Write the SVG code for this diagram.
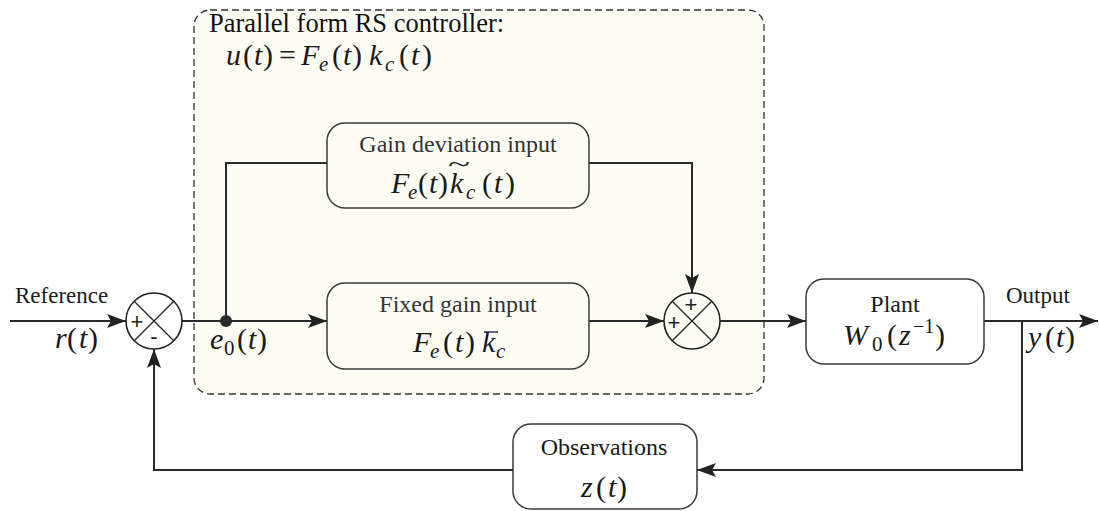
<svg xmlns="http://www.w3.org/2000/svg" width="1099" height="511" viewBox="0 0 1099 511">
  <defs>
    <marker id="head" markerUnits="userSpaceOnUse" markerWidth="20" markerHeight="16" refX="19" refY="7" orient="auto">
      <path d="M0,0 L19,7 L0,14 L4,7 Z" fill="#222222"/>
    </marker>
  </defs>
  <rect x="0" y="0" width="1099" height="511" fill="#ffffff"/>
  <g id="controller">
    <rect x="194" y="10" width="570" height="384" rx="16" fill="#fdfdf3" stroke="#333333" stroke-width="1.3" stroke-dasharray="7 4"/>
    <text style="font-family:'Liberation Serif',serif !important" font-family="Liberation Serif" font-size="26.5" fill="#111111" x="209" y="32">Parallel form RS controller:</text>
    <text style="font-family:'Liberation Serif',serif !important" font-family="Liberation Serif" font-size="30" fill="#1a1a1a" y="65"><tspan font-style="italic" x="226">u</tspan><tspan x="243">(</tspan><tspan font-style="italic" x="254">t</tspan><tspan x="263">)</tspan><tspan x="279">=</tspan><tspan font-style="italic" x="301">F</tspan><tspan font-style="italic" font-size="21" x="319" y="71">e</tspan><tspan x="332" y="65">(</tspan><tspan font-style="italic" x="343">t</tspan><tspan x="352">)</tspan><tspan font-style="italic" x="369">k</tspan><tspan font-style="italic" font-size="21" x="385" y="71">c</tspan><tspan x="399" y="65">(</tspan><tspan font-style="italic" x="411">t</tspan><tspan x="422">)</tspan></text>
  </g>
  <g id="connectors" fill="none" stroke="#2a2a2a" stroke-width="2">
    <line x1="10" y1="321" x2="126" y2="321" marker-end="url(#head)"/>
    <line x1="182" y1="321" x2="327" y2="321" marker-end="url(#head)"/>
    <polyline points="226,321 226,163 327,163"/>
    <polyline points="589,163 692,163 692,293" marker-end="url(#head)"/>
    <line x1="589" y1="321" x2="664" y2="321" marker-end="url(#head)"/>
    <line x1="720" y1="321" x2="806" y2="321" marker-end="url(#head)"/>
    <line x1="984" y1="321" x2="1098" y2="321" marker-end="url(#head)"/>
    <polyline points="1022,321 1022,470 697,470" marker-end="url(#head)"/>
    <polyline points="513,470 154,470 154,349" marker-end="url(#head)"/>
    <circle cx="226" cy="321" r="6" fill="#2a2a2a" stroke="none"/>
  </g>
  <g id="signals" fill="#1a1a1a">
    <text style="font-family:'Liberation Serif',serif !important" font-family="Liberation Serif" font-size="23" x="15" y="303">Reference</text>
    <text style="font-family:'Liberation Serif',serif !important" font-family="Liberation Serif" font-size="30" y="348"><tspan font-style="italic" x="55">r</tspan><tspan x="67">(</tspan><tspan font-style="italic" x="79">t</tspan><tspan x="88">)</tspan></text>
    <text style="font-family:'Liberation Serif',serif !important" font-family="Liberation Serif" font-size="30" y="349"><tspan font-style="italic" x="210">e</tspan><tspan font-size="21" x="224" y="355">0</tspan><tspan x="237" y="349">(</tspan><tspan font-style="italic" x="248">t</tspan><tspan x="257">)</tspan></text>
    <text style="font-family:'Liberation Serif',serif !important" font-family="Liberation Serif" font-size="23" x="1006" y="303">Output</text>
    <text style="font-family:'Liberation Serif',serif !important" font-family="Liberation Serif" font-size="30" y="347"><tspan font-style="italic" x="1028">y</tspan><tspan x="1045">(</tspan><tspan font-style="italic" x="1056">t</tspan><tspan x="1065">)</tspan></text>
  </g>
  <g id="sum1">
    <circle cx="154" cy="321" r="28" fill="#ffffff" stroke="#222222" stroke-width="1.6"/>
    <path d="M134.2,301.2 L173.8,340.8 M173.8,301.2 L134.2,340.8" stroke="#222222" stroke-width="1.3"/>
    <text style="font-family:'Liberation Sans',sans-serif !important" font-family="Liberation Sans" font-size="22" fill="#222222" text-anchor="middle" x="137" y="329">+</text>
    <text style="font-family:'Liberation Sans',sans-serif !important" font-family="Liberation Sans" font-size="22" fill="#222222" text-anchor="middle" x="154" y="344">-</text>
  </g>
  <g id="gain-deviation">
    <rect x="327" y="123" width="262" height="85" rx="18" fill="none" stroke="#3a3a3a" stroke-width="1.5"/>
    <text style="font-family:'Liberation Serif',serif !important" font-family="Liberation Serif" font-size="24" fill="#333333" text-anchor="middle" x="458" y="152">Gain deviation input</text>
    <text style="font-family:'Liberation Serif',serif !important" font-family="Liberation Serif" font-size="30" fill="#1a1a1a" y="193"><tspan font-style="italic" x="391">F</tspan><tspan font-style="italic" font-size="21" x="408" y="199">e</tspan><tspan x="418" y="193">(</tspan><tspan font-style="italic" x="429">t</tspan><tspan x="438">)</tspan><tspan font-style="italic" x="450">k</tspan><tspan font-style="italic" font-size="21" x="466" y="199">c</tspan><tspan x="482" y="193">(</tspan><tspan font-style="italic" x="494">t</tspan><tspan x="505">)</tspan></text>
    <text style="font-family:'Liberation Serif',serif !important" font-family="Liberation Serif" font-size="24" fill="#1a1a1a" transform="translate(448,172) scale(1.7,1)">~</text>
  </g>
  <g id="fixed-gain">
    <rect x="327" y="283" width="262" height="86" rx="18" fill="none" stroke="#3a3a3a" stroke-width="1.5"/>
    <text style="font-family:'Liberation Serif',serif !important" font-family="Liberation Serif" font-size="24" fill="#333333" text-anchor="middle" x="458" y="312">Fixed gain input</text>
    <text style="font-family:'Liberation Serif',serif !important" font-family="Liberation Serif" font-size="30" fill="#1a1a1a" y="352"><tspan font-style="italic" x="413">F</tspan><tspan font-style="italic" font-size="21" x="430" y="358">e</tspan><tspan x="443" y="352">(</tspan><tspan font-style="italic" x="455">t</tspan><tspan x="465">)</tspan><tspan font-style="italic" x="482" fill="#14143c">k</tspan><tspan font-style="italic" font-size="21" x="496" y="358" fill="#14143c">c</tspan></text>
    <line x1="484" y1="332" x2="498" y2="332" stroke="#14143c" stroke-width="1.3"/>
  </g>
  <g id="sum2">
    <circle cx="692" cy="321" r="28" fill="#fdfdf3" stroke="#222222" stroke-width="1.6"/>
    <path d="M672.2,301.2 L711.8,340.8 M711.8,301.2 L672.2,340.8" stroke="#222222" stroke-width="1.3"/>
    <text style="font-family:'Liberation Sans',sans-serif !important" font-family="Liberation Sans" font-size="22" fill="#222222" text-anchor="middle" x="691" y="312">+</text>
    <text style="font-family:'Liberation Sans',sans-serif !important" font-family="Liberation Sans" font-size="22" fill="#222222" text-anchor="middle" x="674" y="330">+</text>
  </g>
  <g id="plant">
    <rect x="806" y="279" width="178" height="85" rx="18" fill="#ffffff" stroke="#3a3a3a" stroke-width="1.5"/>
    <text style="font-family:'Liberation Serif',serif !important" font-family="Liberation Serif" font-size="24" fill="#1a1a1a" text-anchor="middle" x="895" y="312">Plant</text>
    <text style="font-family:'Liberation Serif',serif !important" font-family="Liberation Serif" font-size="30" fill="#1a1a1a" y="345"><tspan font-style="italic" x="843">W</tspan><tspan font-size="21" x="872" y="351">0</tspan><tspan x="887" y="345">(</tspan><tspan font-style="italic" x="899">z</tspan><tspan font-size="20" x="913" y="333">−1</tspan><tspan x="935" y="345">)</tspan></text>
  </g>
  <g id="observations">
    <rect x="513" y="424" width="184" height="85" rx="18" fill="#ffffff" stroke="#3a3a3a" stroke-width="1.5"/>
    <text style="font-family:'Liberation Serif',serif !important" font-family="Liberation Serif" font-size="24" fill="#1a1a1a" text-anchor="middle" x="604" y="455">Observations</text>
    <text style="font-family:'Liberation Serif',serif !important" font-family="Liberation Serif" font-size="30" fill="#1a1a1a" y="497"><tspan font-style="italic" x="581">z</tspan><tspan x="596">(</tspan><tspan font-style="italic" x="608">t</tspan><tspan x="617">)</tspan></text>
  </g>
</svg>
